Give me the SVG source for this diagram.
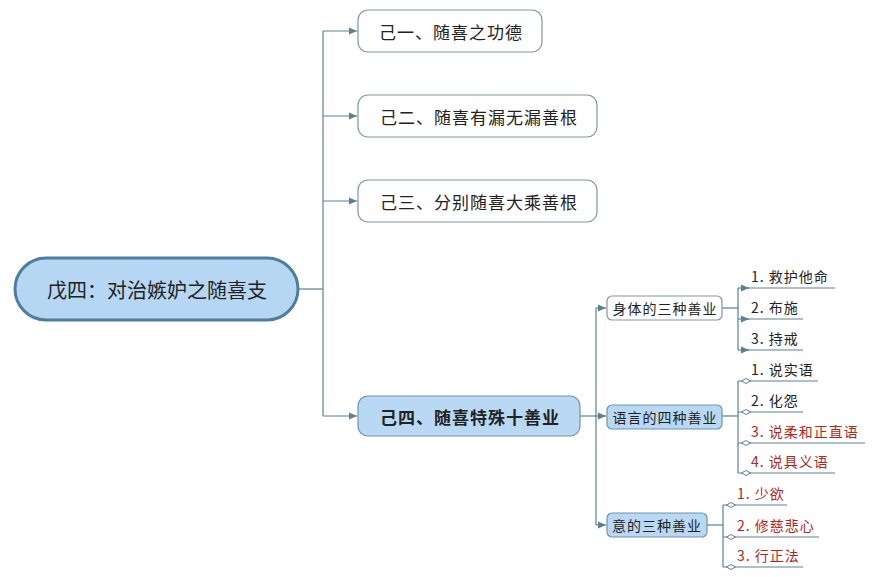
<svg xmlns="http://www.w3.org/2000/svg" width="880" height="577" viewBox="0 0 880 577">
<defs>
<style>
text{font-family:"Noto Sans CJK SC","Liberation Sans",sans-serif;fill:#222}
.c{fill:none;stroke:#5b8195;stroke-width:1.2}
.u{fill:none;stroke:#5b8195;stroke-width:1}
.box{fill:#fff;stroke:#7f97a3;stroke-width:1.2}
.bbox{fill:#b9d8f3;stroke:#6f93ad;stroke-width:1.2}
.t1{font-size:17px;letter-spacing:1px;text-anchor:middle;dominant-baseline:central}
.t2{font-size:14px;letter-spacing:1px;text-anchor:middle;dominant-baseline:central}
.lf{font-size:14px;letter-spacing:1px}
.red{fill:#b2261f}
</style>
<marker id="ar" viewBox="0 0 8 8" refX="8" refY="4" markerWidth="8" markerHeight="8" markerUnits="userSpaceOnUse" orient="auto">
<path d="M0,0.5 L8,4 L0,7.5 Z" fill="#5b8195"/>
</marker>
<marker id="dm" viewBox="0 0 10 6" refX="0" refY="3" markerWidth="10" markerHeight="6" markerUnits="userSpaceOnUse" orient="auto">
<path d="M0.5,3 L5,0.5 L9.5,3 L5,5.5 Z" fill="#fff" stroke="#5b8195" stroke-width="1"/>
</marker>
</defs>
<rect width="880" height="577" fill="#fff"/>
<g id="connectors">
<path class="c" d="M298,289 H323"/>
<path class="c" d="M323,31 V416"/>
<path class="c" d="M323,31 H357" marker-end="url(#ar)"/>
<path class="c" d="M323,116 H357" marker-end="url(#ar)"/>
<path class="c" d="M323,201 H357" marker-end="url(#ar)"/>
<path class="c" d="M323,416 H357" marker-end="url(#ar)"/>
<path class="c" d="M580,416 H596"/>
<path class="c" d="M596,308 V525"/>
<path class="c" d="M596,308 H606" marker-end="url(#ar)"/>
<path class="c" d="M596,416 H606" marker-end="url(#ar)"/>
<path class="c" d="M596,525 H606" marker-end="url(#ar)"/>
<path class="c" d="M722,308 H738"/>
<path class="c" d="M738,288 V350"/>
<path class="c" d="M738,288 H749" marker-end="url(#ar)"/>
<path class="c" d="M738,319 H749" marker-end="url(#ar)"/>
<path class="c" d="M738,350 H749" marker-end="url(#ar)"/>
<path class="u" d="M747,288 H835"/>
<path class="u" d="M747,319 H803"/>
<path class="u" d="M747,350 H803"/>
<path class="c" d="M722,416 H738"/>
<path class="c" d="M738,381 V473"/>
<path class="u" d="M738,381 H741"/>
<path class="u" d="M738,412 H741"/>
<path class="u" d="M738,443 H741"/>
<path class="u" d="M738,473 H741"/>
<path class="u" d="M741,381 H818" marker-start="url(#dm)"/>
<path class="u" d="M741,412 H803" marker-start="url(#dm)"/>
<path class="u" d="M741,443 H865" marker-start="url(#dm)"/>
<path class="u" d="M741,473 H835" marker-start="url(#dm)"/>
<path class="c" d="M707,525 H723"/>
<path class="c" d="M723,505 V567"/>
<path class="u" d="M723,505 H726"/>
<path class="u" d="M723,537 H726"/>
<path class="u" d="M723,567 H726"/>
<path class="u" d="M726,505 H787" marker-start="url(#dm)"/>
<path class="u" d="M726,537 H819" marker-start="url(#dm)"/>
<path class="u" d="M726,567 H803" marker-start="url(#dm)"/>
</g>
<g id="root">
<rect x="15" y="258" width="283" height="62" rx="31" fill="#b6d7f3" stroke="#4f7e9d" stroke-width="3"/>
<text x="157" y="289" font-size="20" text-anchor="middle" dominant-baseline="central">戊四：对治嫉妒之随喜支</text>
</g>
<g id="n1">
<rect class="box" x="358" y="10" width="184" height="42" rx="10"/>
<text class="t1" x="451" y="31">己一、随喜之功德</text>
</g>
<g id="n2">
<rect class="box" x="358" y="95" width="239" height="42" rx="10"/>
<text class="t1" x="479" y="116">己二、随喜有漏无漏善根</text>
</g>
<g id="n3">
<rect class="box" x="358" y="180" width="239" height="42" rx="10"/>
<text class="t1" x="479" y="201">己三、分别随喜大乘善根</text>
</g>
<g id="n4">
<rect class="bbox" x="358" y="396" width="222" height="40" rx="10"/>
<text class="t1" x="470" y="416" font-weight="bold">己四、随喜特殊十善业</text>
</g>
<g id="s1">
<rect class="box" x="607" y="296" width="115" height="24" rx="5"/>
<text class="t2" x="665" y="308">身体的三种善业</text>
</g>
<g id="s2">
<rect class="bbox" x="607" y="405" width="115" height="24" rx="5"/>
<text class="t2" x="665" y="417">语言的四种善业</text>
</g>
<g id="s3">
<rect class="bbox" x="607" y="513" width="100" height="24" rx="5"/>
<text class="t2" x="657" y="525">意的三种善业</text>
</g>
<g id="l1"><text class="lf" x="751" y="282">1. 救护他命</text></g>
<g id="l2"><text class="lf" x="751" y="313">2. 布施</text></g>
<g id="l3"><text class="lf" x="751" y="344">3. 持戒</text></g>
<g id="l4"><text class="lf" x="751" y="375">1. 说实语</text></g>
<g id="l5"><text class="lf" x="751" y="406">2. 化怨</text></g>
<g id="l6"><text class="lf red" x="751" y="437">3. 说柔和正直语</text></g>
<g id="l7"><text class="lf red" x="751" y="467">4. 说具义语</text></g>
<g id="l8"><text class="lf red" x="737" y="499">1. 少欲</text></g>
<g id="l9"><text class="lf red" x="737" y="531">2. 修慈悲心</text></g>
<g id="l10"><text class="lf red" x="737" y="561">3. 行正法</text></g>
</svg>
